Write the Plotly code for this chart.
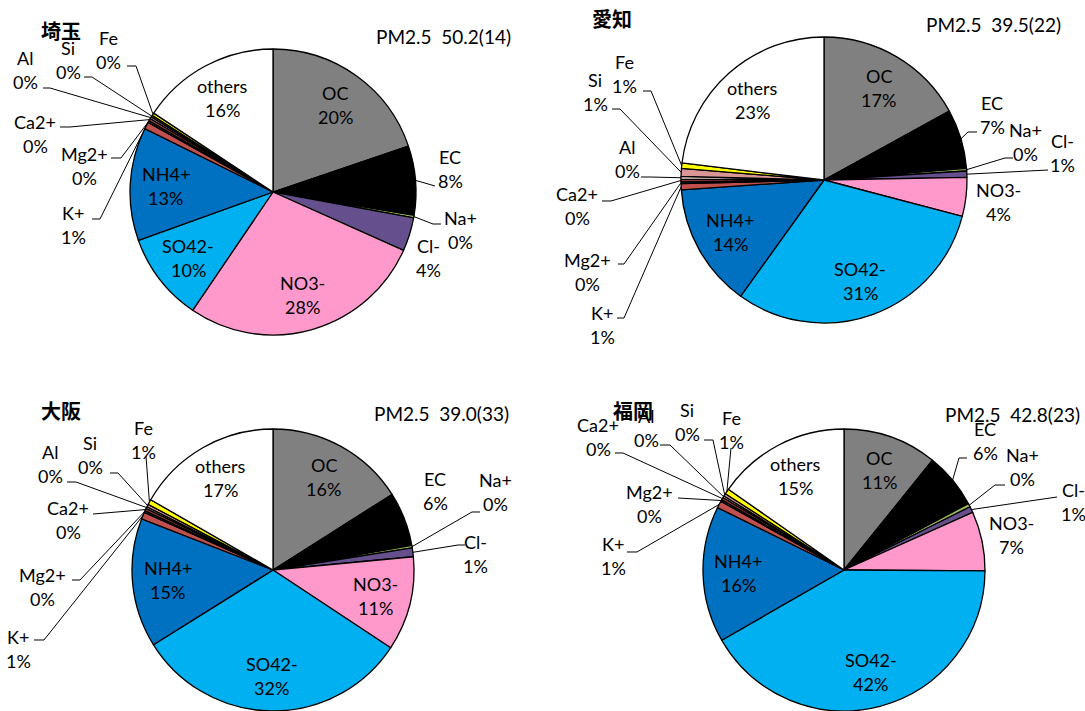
import math
import plotly.graph_objects as go

W, H = 1085, 711

# PM2.5 component shares (%) by site
species = ["OC", "EC", "Na+", "Cl-", "NO3-", "SO42-", "NH4+",
           "K+", "Mg2+", "Ca2+", "Al", "Si", "Fe", "others"]
colors = ["#808080", "#000000", "#9BBB59", "#654F8C", "#FF99CC", "#00B0F0", "#0070C0",
          "#C0504D", "#1F3864", "#953735", "#F2DCDB", "#D99694", "#FFFF00", "#FFFFFF"]

saitama = [19.8, 7.8, 0.3, 3.8, 27.8, 10.0, 12.8, 0.8, 0.2, 0.3, 0.2, 0.2, 0.3, 15.7]
aichi   = [17.0, 6.7, 0.3, 0.7, 4.4, 30.8, 14.0, 0.7, 0.2, 0.3, 0.3, 0.9, 0.6, 23.1]
osaka   = [16.0, 6.2, 0.3, 1.0, 10.8, 31.8, 14.8, 0.8, 0.2, 0.3, 0.2, 0.3, 0.6, 16.7]
fukuoka = [10.8, 6.4, 0.4, 0.7, 6.8, 41.6, 15.6, 0.8, 0.2, 0.3, 0.2, 0.3, 0.6, 15.3]

site_names = ["埼玉", "愛知", "大阪", "福岡"]
pm25_labels = ["50.2(14)", "39.5(22)", "39.0(33)", "42.8(23)"]
site_values = [saitama, aichi, osaka, fukuoka]

# ---- layout (pixel positions) ----
pie_geom = [  # center x, center y, radius
    (273, 192, 143),
    (824, 180, 143),
    (273, 570, 141),
    (844, 570, 141),
]
title_pos = [(61, 31), (612, 19), (61, 410), (633, 410)]
pm_pos = [(513, 36), (1063, 25), (511, 413), (1082, 414)]

inside = [
    {"OC", "NO3-", "SO42-", "NH4+", "others"},
    {"OC", "SO42-", "NH4+", "others"},
    {"OC", "NO3-", "SO42-", "NH4+", "others"},
    {"OC", "SO42-", "NH4+", "others"},
]

# outside labels: name -> (label center x, y, leader points from slice side)
outside = [
    {
        "EC": (450, 169, [(435, 186)]),
        "Na+": (460, 230, [(433, 224), (441, 224)]),
        "Cl-": (428, 258, []),
        "K+": (73, 225, [(100, 219), (92, 219)]),
        "Mg2+": (84, 166, [(121, 158), (111, 158)]),
        "Ca2+": (35, 134, [(70, 127), (60, 127)]),
        "Al": (25, 70, [(50, 88), (43, 88)]),
        "Si": (68, 60, [(92, 77), (84, 77)]),
        "Fe": (108, 50, [(136, 66), (127, 66)]),
    },
    {
        "EC": (992, 115, [(968, 132), (977, 132)]),
        "Na+": (1025, 142, [(1005, 158), (1013, 158)]),
        "Cl-": (1062, 153, [(1048, 170)]),
        "NO3-": (998, 202, []),
        "K+": (602, 325, [(624, 318), (617, 318)]),
        "Mg2+": (587, 272, [(624, 264), (618, 264)]),
        "Ca2+": (577, 206, [(611, 201), (602, 201)]),
        "Al": (627, 159, [(650, 177), (641, 177)]),
        "Si": (595, 92, [(620, 109), (612, 109)]),
        "Fe": (624, 74, [(651, 91), (643, 91)]),
    },
    {
        "EC": (435, 491, []),
        "Na+": (495, 492, [(472, 512), (480, 512)]),
        "Cl-": (475, 554, [(458, 545), (465, 545)]),
        "Fe": (143, 440, [(146, 456)]),
        "Si": (90, 455, [(118, 473), (110, 473)]),
        "Al": (50, 464, [(76, 482), (67, 482)]),
        "Ca2+": (68, 520, [(93, 514)]),
        "Mg2+": (42, 587, [(80, 580), (72, 580)]),
        "K+": (18, 649, [(44, 640), (34, 640)]),
    },
    {
        "EC": (985, 441, [(959, 458), (967, 458)]),
        "Na+": (1022, 467, [(995, 485), (1005, 485)]),
        "Cl-": (1073, 502, [(1057, 497)]),
        "NO3-": (1011, 535, []),
        "Fe": (731, 430, [(731, 448)]),
        "Si": (687, 422, [(713, 440), (704, 440)]),
        "Al": (646, 428, [(670, 445), (660, 445)]),
        "Ca2+": (598, 437, [(623, 453), (615, 453)]),
        "Mg2+": (649, 504, [(678, 498)]),
        "K+": (613, 556, [(637, 552), (627, 552)]),
    },
]

FONT = "Lato, 'Noto Sans', sans-serif"
LABEL_SIZE = 18
LINE_GAP = 12
INSIDE_R = 0.75


def px(x, y):
    return x / W, 1 - y / H


fig = go.Figure()
annotations = []
shapes = []

for i, vals in enumerate(site_values):
    cx, cy, r = pie_geom[i]
    x0, y1 = px(cx - r, cy - r)
    x1, y0 = px(cx + r, cy + r)
    fig.add_trace(go.Pie(
        labels=species, values=vals, sort=False, direction="clockwise", rotation=0,
        marker=dict(colors=colors, line=dict(color="#000000", width=1.3)),
        textinfo="none", hoverinfo="label+percent", showlegend=False,
        domain=dict(x=[x0, x1], y=[y0, y1]),
    ))

    total = sum(vals)
    cum = 0.0
    mids = {}
    pcts = {}
    for name, v in zip(species, vals):
        mids[name] = 2 * math.pi * (cum + v / 2) / total
        pcts[name] = int(100 * v / total + 0.5)
        cum += v

    def add_label(name, lx, ly):
        for txt, dy in ((name, -LINE_GAP), (f"{pcts[name]}%", LINE_GAP)):
            ax, ay = px(lx, ly + dy)
            annotations.append(dict(
                x=ax, y=ay, xref="paper", yref="paper", text=txt, showarrow=False,
                xanchor="center", yanchor="middle",
                font=dict(family=FONT, size=LABEL_SIZE, color="#000000"),
            ))

    for name in species:
        a = mids[name]
        if name in inside[i]:
            lx = cx + INSIDE_R * r * math.sin(a)
            ly = cy - INSIDE_R * r * math.cos(a)
            add_label(name, lx, ly)
        elif name in outside[i]:
            lx, ly, pts = outside[i][name]
            add_label(name, lx, ly)
            if pts:
                ex = cx + r * math.sin(a)
                ey = cy - r * math.cos(a)
                path_pts = [(ex, ey)] + pts
                ppts = [px(x, y) for x, y in path_pts]
                d = "M " + " L ".join(f"{x:.5f},{y:.5f}" for x, y in ppts)
                shapes.append(dict(type="path", path=d, xref="paper", yref="paper",
                                   line=dict(color="#000000", width=1)))

    tx, ty = px(*title_pos[i])
    annotations.append(dict(
        x=tx, y=ty, xref="paper", yref="paper", text=f"<b>{site_names[i]}</b>",
        showarrow=False, xanchor="center", yanchor="middle",
        font=dict(family="'Noto Sans CJK JP'", size=20, color="#000000"),
    ))
    mx, my = px(*pm_pos[i])
    annotations.append(dict(
        x=mx, y=my, xref="paper", yref="paper",
        text=f"PM2.5  {pm25_labels[i]}", showarrow=False,
        xanchor="right", yanchor="middle",
        font=dict(family=FONT, size=19, color="#000000"),
    ))

fig.update_layout(
    width=W, height=H,
    margin=dict(l=0, r=0, t=0, b=0),
    paper_bgcolor="#FFFFFF", plot_bgcolor="#FFFFFF",
    annotations=annotations, shapes=shapes,
    showlegend=False,
)

fig.write_html("out.html")
